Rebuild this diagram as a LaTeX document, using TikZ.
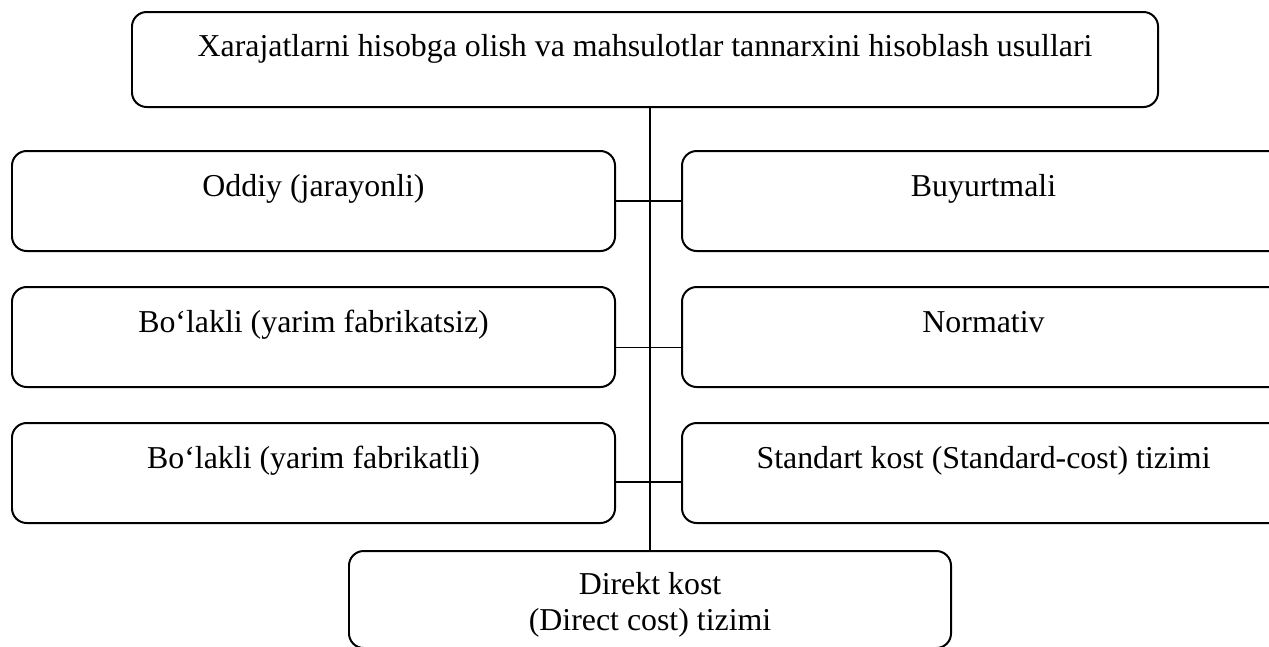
\documentclass[tikz,border=0pt]{standalone}
\usepackage{fontspec}
\setmainfont{Liberation Serif}
\usepackage{tikz}
\usetikzlibrary{positioning}

\begin{document}
\begin{tikzpicture}[
    x=0.015cm, y=-0.015cm,
    node distance=0.51cm and 0.975cm,
    mybox/.style={draw, rounded corners=0.22cm, line width=0.85pt, inner sep=0pt, minimum width=9.045cm, text height=0.675cm, text depth=0.825cm, font={\fontsize{13.6}{15.3}\selectfont}},
    myline/.style={line width=0.6pt}
]
\useasboundingbox (0,0) rectangle (1269,646);
\node[mybox, anchor=north west, minimum width=15.39cm, text height=0.66cm, text depth=0.765cm] (T) at (131,11) {Xarajatlarni hisobga olish va mahsulotlar tannarxini hisoblash usullari};
\node[mybox, anchor=north west] (L1) at (11,150) {Oddiy (jarayonli)};
\node[mybox] (L2) [below=of L1] {Bo‘lakli (yarim fabrikatsiz)};
\node[mybox] (L3) [below=of L2] {Bo‘lakli (yarim fabrikatli)};
\node[mybox] (R1) [right=of L1] {Buyurtmali};
\node[mybox] (R2) [right=of L2] {Normativ};
\node[mybox] (R3) [right=of L3] {Standart kost (Standard-cost) tizimi};
\node[mybox, anchor=north west, minimum width=9.03cm, align=center, text height=1.185cm, text depth=0.27cm] (D) at (348,550) {Direkt kost\\(Direct cost) tizimi};

\draw[myline] (D.north) -- (D.north |- T.south);
\draw[myline] (L1.east) -- (R1.west);
\draw[myline] ([yshift=-0.16cm]L2.east) -- ([yshift=-0.16cm]R2.west);
\draw[myline] ([yshift=-0.135cm]L3.east) -- ([yshift=-0.135cm]R3.west);
\end{tikzpicture}
\end{document}
